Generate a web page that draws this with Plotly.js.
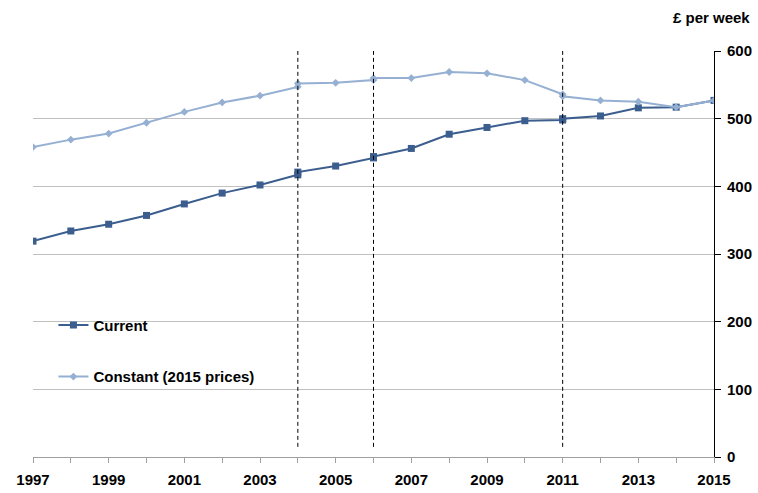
<!DOCTYPE html>
<html>
<head>
<meta charset="utf-8">
<script src="https://cdn.plot.ly/plotly-3.0.1.min.js"></script>
<style>
  html, body { margin: 0; padding: 0; background: #fff; }
  #chart { width: 758px; height: 493px; }
</style>
</head>
<body>
<div id="chart"></div>
<script>
// years: break years (2004, 2006, 2011) appear twice, old and new series
const years = [1997, 1998, 1999, 2000, 2001, 2002, 2003, 2004, 2004, 2005, 2006, 2006,
               2007, 2008, 2009, 2010, 2011, 2011, 2012, 2013, 2014, 2015];
const current = [319, 334, 344, 357, 374, 390, 402, 417, 421, 430, 442, 444,
                 456, 477, 487, 497, 498, 500, 504, 516, 517, 527];
const constant = [458, 469, 478, 494, 510, 524, 534, 547, 552, 553, 557, 560,
                  560, 569, 567, 557, 536, 533, 527, 525, 517, 527];
const breakYears = [2004, 2006, 2011];
const tickYears = [1997, 1999, 2001, 2003, 2005, 2007, 2009, 2011, 2013, 2015];
const yTicks = [0, 100, 200, 300, 400, 500, 600];

const fontFam = 'Liberation Sans, Arial, sans-serif';
const txt = {family: fontFam, size: 15, color: '#000', weight: 'bold'};

const traces = [
  {
    x: years, y: current, name: 'Current', legendgroup: 'a',
    mode: 'lines+markers', type: 'scatter',
    line: {color: '#3b5e8e', width: 2},
    marker: {symbol: 'square', size: 7, color: '#3b5e8e'}
  },
  {
    x: years, y: constant, name: 'Constant (2015 prices)', legendgroup: 'b',
    mode: 'lines+markers', type: 'scatter',
    line: {color: '#95b0d2', width: 2},
    marker: {symbol: 'diamond', size: 6, color: '#95b0d2'}
  }
];

// dashed vertical lines at series breaks
const shapes = breakYears.map(yr => ({
  type: 'line', xref: 'x', yref: 'y',
  x0: yr, x1: yr, y0: 15, y1: 600,
  line: {color: '#000', width: 1, dash: '4px,3px'}
}));

const layout = {
  width: 758, height: 493,
  margin: {l: 33, r: 44, t: 51, b: 36},
  paper_bgcolor: '#fff', plot_bgcolor: '#fff',
  font: txt,
  showlegend: true,
  legend: {
    x: 0.03, y: 0.365, xanchor: 'left', yanchor: 'top',
    bgcolor: 'rgba(0,0,0,0)', tracegroupgap: 29,
    itemwidth: 30,
    font: txt
  },
  xaxis: {
    range: [1997, 2015], tickvals: tickYears, ticktext: tickYears.map(String),
    showgrid: false, zeroline: false,
    showline: true, linecolor: '#a0a0a0', linewidth: 1,
    ticks: 'outside', ticklen: 5, tickcolor: '#a0a0a0',
    ticklabelstandoff: 4,
    minor: {dtick: 1, ticks: 'outside', ticklen: 5, tickcolor: '#a0a0a0', showgrid: false},
    tickfont: txt,
    fixedrange: true
  },
  yaxis: {
    side: 'right', range: [0, 600], tickvals: yTicks,
    showgrid: true, gridcolor: '#c0c0c0', gridwidth: 1, zeroline: false,
    showline: true, linecolor: '#000', linewidth: 1,
    ticks: 'outside', ticklen: 6, tickcolor: '#000',
    ticklabelstandoff: 3,
    tickfont: txt,
    fixedrange: true
  },
  shapes: shapes,
  annotations: [{
    text: '£ per week', xref: 'paper', yref: 'paper',
    x: 1, y: 1, xanchor: 'right', yanchor: 'bottom',
    xshift: 38, yshift: 23, showarrow: false,
    font: txt
  }]
};

Plotly.newPlot('chart', traces, layout, {displayModeBar: false, staticPlot: true});
</script>
</body>
</html>
